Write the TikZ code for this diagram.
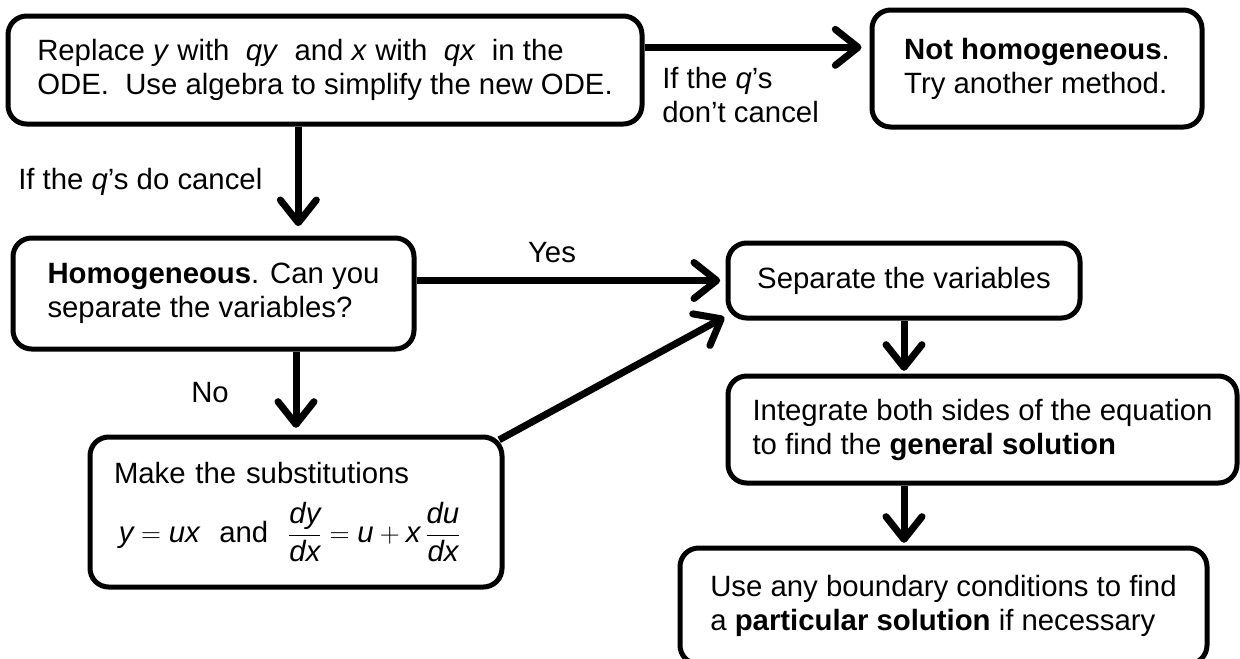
\documentclass[tikz,border=0pt]{standalone}
\usepackage{fontspec}
\setmainfont{Liberation Sans}
\usetikzlibrary{arrows.meta}

\begin{document}
\begin{tikzpicture}[x=0.75pt,y=-0.75pt,
                    font=\fontsize{22}{25.5}\selectfont,
                    box/.style={draw, line width=3.75pt, rounded corners=14pt, align=left, inner sep=0pt},
                    arr/.style={line width=5.25pt, -{Straight Barb[length=17pt,width=27pt,round]}},
                    lbl/.style={align=left, inner sep=0pt}]
                    \useasboundingbox (0,0) rectangle (1240,658);
                    \clip (0,0) rectangle (1240,658);

                    \node[box, minimum width=475.5pt, minimum height=81pt] (rep) at (325,70)
                        {Replace \textit{y} with \ \textit{qy} \ and \textit{x} with \ \textit{qx} \ in the\\ODE.\ \ Use algebra to simplify the new ODE.};
                    \node[box, minimum width=247.5pt, minimum height=87.75pt] (nothom) at (1037,68.5)
                        {\textbf{Not homogeneous}.\\Try another method.};
                    \node[box, minimum width=300.75pt, minimum height=83.25pt] (homog) at (213.5,293.5)
                        {\textbf{Homogeneous}. Can you\\separate the variables?};
                    \node[box, minimum width=264pt, minimum height=56.25pt] (sep) at (904,280.5)
                        {Separate the variables};
                    \node[box, minimum width=381.75pt, minimum height=80.25pt] (integ) at (982.5,429.5)
                        {Integrate both sides of the equation\\to find the \textbf{general solution}};
                    \node[box, minimum height=112.5pt, inner xsep=18pt, text width=273pt] (make) at (296,512)
                        {Make the substitutions\\[13pt]
                         \,$\textit{y} = \textit{ux}$ \ and \ $\displaystyle\frac{\textit{dy}}{\textit{dx}} = \textit{u} + \textit{x}\,\frac{\textit{du}}{\textit{dx}}$};
                    \node[box, minimum width=395.25pt, minimum height=87pt] (use) at (943.5,606)
                        {Use any boundary conditions to find\\a \textbf{particular solution} if necessary};

                    \node[lbl, anchor=west] (ifnot) at (662,95) {If the \textit{q}’s\\don’t cancel};
                    \node[lbl, anchor=west] (ifdo) at (18,182) {If the \textit{q}’s do cancel};
                    \node[lbl] (yes) at (552,253) {Yes};
                    \node[lbl] (no) at (210,393) {No};

                    \draw[arr, shorten >=6pt] ([yshift=17pt]rep.east) coordinate (t1) -- (t1 -| nothom.west);
                    \draw[arr, shorten >=7pt] ([xshift=-20pt]rep.south) coordinate (t2) -- (t2 |- homog.north);
                    \draw[arr, shorten >=4pt] (homog.east |- sep.west) -- (sep.west);
                    \draw[arr, shorten >=5pt] (homog.south -| make.north) -- (make.north);
                    \draw[arr, shorten >=1pt] ([xshift=-4pt,yshift=-4pt]make.north east) -- ([yshift=3pt]sep.south west);
                    \draw[arr, shorten >=2pt] (sep.south) -- (sep.south |- integ.north);
                    \draw[arr, shorten >=2pt] (sep.south |- integ.south) -- (sep.south |- use.north);
                \end{tikzpicture}
\end{document}
